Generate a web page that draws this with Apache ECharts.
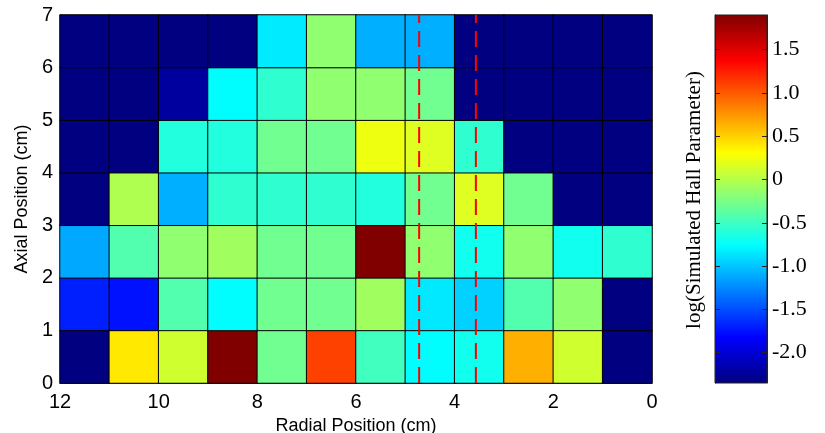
<!DOCTYPE html>
<html>
<head>
<meta charset="utf-8">
<script src="https://cdn.jsdelivr.net/npm/echarts@6/dist/echarts.min.js"></script>
<style>
html,body{margin:0;padding:0;background:#fff}
#chart{width:825px;height:433px}
</style>
</head>
<body>
<div id="chart"></div>
<script>
// cell centres (cm), left to right as drawn (radial axis runs 12 -> 0)
var radialCenters = [11.5, 10.5, 9.5, 8.5, 7.5, 6.5, 5.5, 4.5, 3.5, 2.5, 1.5, 0.5];
var axialCenters = [0.5, 1.5, 2.5, 3.5, 4.5, 5.5, 6.5];

// log(Simulated Hall Parameter), one row per axial band
var row0 = [-2.35, 0.40, 0.11, 1.90, -0.29, 1.10, -0.49, -0.76, -0.69, 0.64, 0.11, -2.35];
var row1 = [-1.69, -1.75, -0.42, -0.76, -0.29, -0.29, -0.09, -0.85, -0.95, -0.42, -0.16, -2.35];
var row2 = [-1.12, -0.42, -0.16, -0.09, -0.29, -0.29, 1.90, -0.16, -0.69, -0.16, -0.69, -0.56];
var row3 = [-2.35, -0.03, -1.09, -0.56, -0.56, -0.56, -0.62, -0.29, 0.17, -0.29, -2.35, -2.35];
var row4 = [-2.35, -2.35, -0.62, -0.62, -0.29, -0.29, 0.24, 0.17, -0.56, -2.35, -2.35, -2.35];
var row5 = [-2.35, -2.35, -2.22, -0.76, -0.56, -0.16, -0.16, -0.29, -2.35, -2.35, -2.35, -2.35];
var row6 = [-2.35, -2.35, -2.35, -2.35, -0.84, -0.16, -1.09, -1.09, -2.35, -2.35, -2.35, -2.35];
var rows = [row0, row1, row2, row3, row4, row5, row6];

var dashX = [4.72, 3.57];          // red dashed markers (cm)
var colorbarTicks = [-2, -1.5, -1, -0.5, 0, 0.5, 1, 1.5];
var cMin = -2.35, cMax = 1.9;

var jet = ['#000080', '#0000ff', '#0080ff', '#00ffff', '#80ff80', '#ffff00', '#ff8000', '#ff0000', '#800000'];

var heatData = [];
rows.forEach(function (r, yi) {
    r.forEach(function (v, xi) {
        heatData.push([xi, yi, v]);
    });
});

// colour bar fill: top of the bar is cMax
var barGradient = {
    type: 'linear', x: 0, y: 0, x2: 0, y2: 1,
    colorStops: jet.slice().reverse().map(function (c, i) {
        return { offset: i / (jet.length - 1), color: c };
    })
};

var sans = 'Liberation Sans';
var serif = 'Liberation Serif';

var dashSeries = dashX.map(function (x) {
    return {
        type: 'line',
        xAxisIndex: 1,
        yAxisIndex: 1,
        data: [[x, 0], [x, 7]],
        showSymbol: false,
        silent: true,
        z: 5,
        lineStyle: { color: '#ff0000', width: 2, type: [16, 8] }
    };
});

var cbTick = { show: true, inside: true, length: 5, customValues: colorbarTicks, lineStyle: { color: '#222' } };

var option = {
    animation: false,
    backgroundColor: '#fff',
    grid: [
        { left: 60, top: 15, width: 592, height: 368, outerBoundsMode: 'none' },
        {
            left: 715, top: 15, width: 52, height: 368, outerBoundsMode: 'none',
            show: true, backgroundColor: barGradient, borderColor: '#222', borderWidth: 1
        }
    ],
    xAxis: [
        { gridIndex: 0, type: 'category', data: radialCenters, show: false },
        {
            gridIndex: 0, type: 'value', min: 0, max: 12, interval: 2, inverse: true,
            position: 'bottom',
            name: 'Radial Position (cm)', nameLocation: 'middle', nameGap: 28,
            nameTextStyle: { fontFamily: sans, fontSize: 18, color: '#000' },
            axisLine: { show: true, onZero: false, lineStyle: { color: '#333' } },
            axisTick: { show: false },
            splitLine: { show: false },
            axisLabel: { fontFamily: sans, fontSize: 20, color: '#000', margin: 9 }
        },
        { gridIndex: 1, type: 'value', min: 0, max: 1, show: false }
    ],
    yAxis: [
        { gridIndex: 0, type: 'category', data: axialCenters, show: false },
        {
            gridIndex: 0, type: 'value', min: 0, max: 7, interval: 1, position: 'left',
            name: 'Axial Position (cm)', nameLocation: 'middle', nameGap: 28,
            nameTextStyle: { fontFamily: sans, fontSize: 18, color: '#000' },
            axisLine: { show: true, onZero: false, lineStyle: { color: '#333' } },
            axisTick: { show: false },
            splitLine: { show: false },
            axisLabel: { fontFamily: sans, fontSize: 20, color: '#000', margin: 7 }
        },
        {
            gridIndex: 1, type: 'value', min: cMin, max: cMax, position: 'right',
            axisLine: { show: true, onZero: false, lineStyle: { color: '#222' } },
            axisTick: cbTick,
            splitLine: { show: false },
            axisLabel: {
                customValues: colorbarTicks,
                fontFamily: serif, fontSize: 22, color: '#000', margin: 5,
                padding: [12, 0, 0, 0],
                formatter: function (v) { return v === 0 ? '0' : v.toFixed(1); }
            }
        },
        {
            gridIndex: 1, type: 'value', min: cMin, max: cMax, position: 'left',
            axisLine: { show: true, onZero: false, lineStyle: { color: '#222' } },
            axisTick: cbTick,
            splitLine: { show: false },
            axisLabel: { show: false }
        }
    ],
    visualMap: {
        type: 'continuous',
        show: false,
        seriesIndex: 0,
        min: cMin,
        max: cMax,
        inRange: { color: jet }
    },
    graphic: [{
        type: 'text',
        x: 694,
        y: 200,
        rotation: Math.PI / 2,
        style: {
            text: 'log(Simulated Hall Parameter)',
            font: '21px "Liberation Serif"',
            fill: '#000',
            align: 'center',
            verticalAlign: 'middle'
        }
    }],
    series: [{
        type: 'heatmap',
        xAxisIndex: 0,
        yAxisIndex: 0,
        data: heatData,
        silent: true,
        itemStyle: { borderColor: '#000', borderWidth: 1 },
        emphasis: { disabled: true }
    }].concat(dashSeries)
};

var myChart = echarts.init(document.getElementById('chart'));
myChart.setOption(option);
</script>
</body>
</html>
